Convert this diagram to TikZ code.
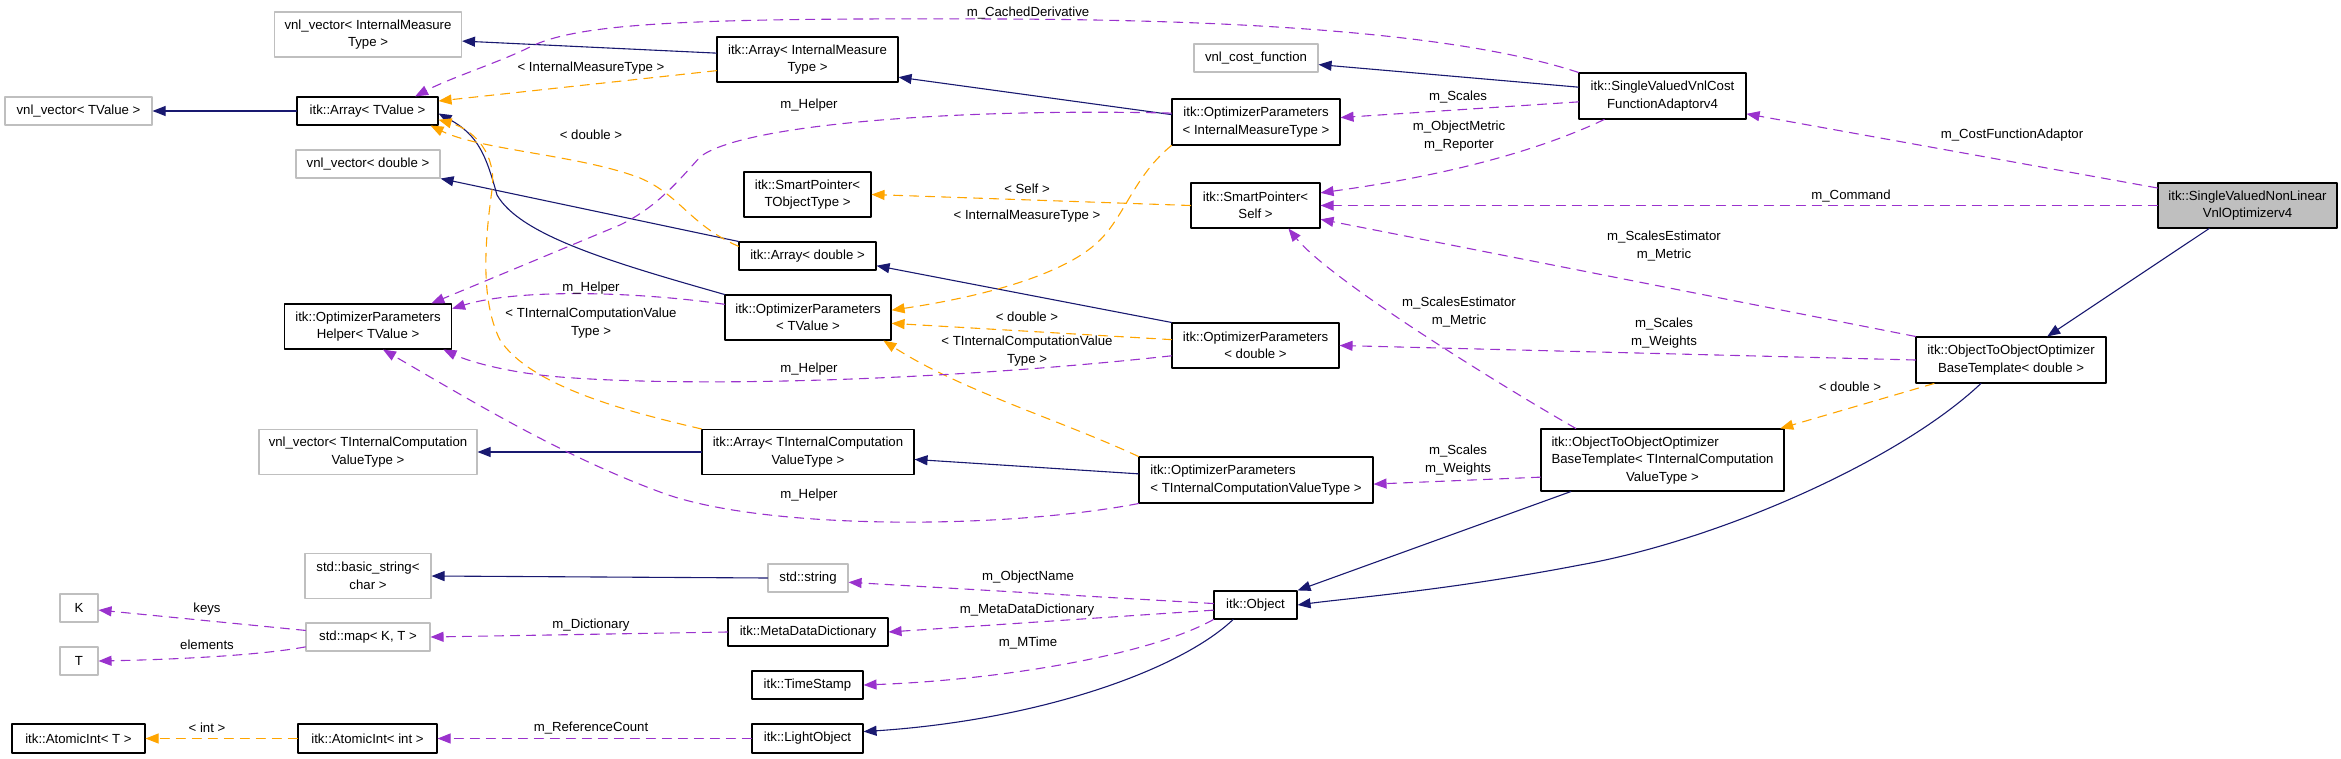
\documentclass[tikz,border=0pt]{standalone}
\usepackage{fontspec}
\setmainfont{Liberation Sans}
\usetikzlibrary{arrows.meta}
\definecolor{edgeblue}{HTML}{191970}
\definecolor{edgepurple}{HTML}{9A32CD}
\definecolor{edgeorange}{HTML}{FFA500}
\definecolor{boxgray}{HTML}{BFBFBF}
\newcommand\dgfont{\fontsize{13.2}{17.5}\selectfont}
\tikzset{
  >={Triangle[length=13pt, width=10pt]},
  every picture/.style={line cap=round, line join=round},
  sz/.style 2 args={minimum width=#1, minimum height=#2},
  % class boxes: documented, external and the class itself
  cls/.style={draw=black, fill=white, line width=1.1pt, inner sep=0pt, align=center, font=\dgfont},
  extcls/.style={cls, draw=boxgray},
  main/.style={cls, fill=boxgray},
  % connectors: inheritance, usage, template instance
  inh/.style={->, draw=edgeblue, line width=1.1pt},
  use/.style={->, draw=edgepurple, line width=1.1pt, dash pattern=on 9pt off 7pt},
  inst/.style={use, draw=edgeorange},
  lbl/.style={font=\dgfont, align=center, inner sep=0pt},
}

\begin{document}
\begin{tikzpicture}[x=1pt, y=-1pt]
  \useasboundingbox (0,0) rectangle (2341,759);
  % first column
  \node[extcls, sz={147}{28}] (vecT) at (78.5,111) {vnl\_vector< TValue >};
  \node[extcls, sz={38}{28}] (K) at (79,608) {K};
  \node[extcls, sz={38}{28}] (T) at (79,661) {T};
  \node[cls, sz={133}{29}] (aiT) at (78.5,738.5) {itk::AtomicInt< T >};
  % second column
  \node[extcls, sz={187}{45}] (vecIMT) at (368,34.5) {vnl\_vector< InternalMeasure\\Type >};
  \node[cls, sz={141}{28}] (arrT) at (367.5,111) {itk::Array< TValue >};
  \node[extcls, sz={144}{28}] (vecD) at (368,164) {vnl\_vector< double >};
  \node[cls, sz={167}{45}] (helper) at (368,326.5) {itk::OptimizerParameters\\Helper< TValue >};
  \node[extcls, sz={218}{45}] (vecTICVT) at (368,452) {vnl\_vector< TInternalComputation\\ValueType >};
  \node[extcls, sz={126}{45}] (bstr) at (368,576) {std::basic\_string<\\char >};
  \node[extcls, sz={124}{28}] (map) at (368,637) {std::map< K, T >};
  \node[cls, sz={139}{29}] (aiInt) at (367.5,738.5) {itk::AtomicInt< int >};
  % third column
  \node[cls, sz={181}{45}] (arrIMT) at (807.5,59.5) {itk::Array< InternalMeasure\\Type >};
  \node[cls, sz={127}{45}] (spTO) at (807.5,194.5) {itk::SmartPointer<\\TObjectType >};
  \node[cls, sz={137}{28}] (arrD) at (807.5,256) {itk::Array< double >};
  \node[cls, sz={166}{45}] (opT) at (808,317.5) {itk::OptimizerParameters\\< TValue >};
  \node[cls, sz={212}{45}] (arrTICVT) at (808,452) {itk::Array< TInternalComputation\\ValueType >};
  \node[extcls, sz={80}{28}] (str) at (808,578) {std::string};
  \node[cls, sz={160}{28}] (mdd) at (808,632) {itk::MetaDataDictionary};
  \node[cls, sz={111}{28}] (ts) at (807.5,685) {itk::TimeStamp};
  \node[cls, sz={111}{29}] (lo) at (807.5,738.5) {itk::LightObject};
  % fourth column
  \node[extcls, sz={124}{28}] (vcf) at (1256,58) {vnl\_cost\_function};
  \node[cls, sz={168}{46}] (opIMT) at (1256,122) {itk::OptimizerParameters\\< InternalMeasureType >};
  \node[cls, sz={129}{45}] (spS) at (1255.5,205.5) {itk::SmartPointer<\\Self >};
  \node[cls, sz={167}{45}] (opD) at (1255.5,345.5) {itk::OptimizerParameters\\< double >};
  \node[cls, sz={234}{46}] (opTICVT) at (1256,480)
    {\begin{tabular}{@{}l@{}}itk::OptimizerParameters\\< TInternalComputationValueType >\end{tabular}};
  \node[cls, sz={83}{28}] (obj) at (1255.5,605) {itk::Object};
  % right part
  \node[cls, sz={167}{46}] (svvc) at (1662.5,96) {itk::SingleValuedVnlCost\\FunctionAdaptorv4};
  \node[cls, sz={243}{62}] (btTICVT) at (1662.5,460)
    {\begin{tabular}{@{}l@{}}itk::ObjectToObjectOptimizer\\BaseTemplate< TInternalComputation\\\multicolumn{1}{@{}c@{}}{ValueType >}\end{tabular}};
  \node[cls, sz={190}{46}] (btD) at (2011,360) {itk::ObjectToObjectOptimizer\\BaseTemplate< double >};
  \node[main, sz={179}{45}] (svnl) at (2247.5,205.5) {itk::SingleValuedNonLinear\\VnlOptimizerv4};

  % inheritance
  \draw[inh] (arrT.west) -- (vecT.east);
  \draw[inh] (arrIMT.176) -- (vecIMT.356);
  \draw[inh] (opIMT.175) -- (arrIMT.349);
  \draw[inh] (svvc.174) -- (vcf.354);
  \draw[inh] (arrD.north west) -- (vecD.south east);
  \draw[inh] (opT.north west) .. controls (610,262) and (520,235) .. (497,195)
    .. controls (486,155) and (478,135) .. (arrT.358);
  \draw[inh] (opD.north west) -- (arrD.352);
  \draw[inh] (arrTICVT.west) -- (vecTICVT.east);
  \draw[inh] (opTICVT.177) -- (arrTICVT.356);
  \draw[inh] (str.west) -- (bstr.east);
  \draw[inh] (obj.213) .. controls (1180,670) and (1040,720) .. (lo.7);
  \draw[inh] (btTICVT.199) -- (obj.north east);
  \draw[inh] (btD.218) .. controls (1900,460) and (1720,540) .. (1580,565)
    .. controls (1450,590) and (1350,598) .. (obj.east);
  \draw[inh] (svnl.211) -- (btD.33);

  % template instances
  \draw[inst] (arrIMT.187) -- (arrT.8) node[lbl, at={(591,68)}] {< InternalMeasureType >};
  \draw[inst] (arrD.172) .. controls (690,225) and (680,195) .. (640,178)
    .. controls (580,155) and (480,150) .. (arrT.347) node[lbl, at={(591,135)}] {< double >};
  \draw[inst] (arrTICVT.north west) .. controls (620,410) and (530,385) .. (500,340)
    .. controls (480,300) and (485,240) .. (492,190) .. controls (497,155) and (475,130) .. (arrT.353)
    node[lbl, at={(591,323)}] {< TInternalComputationValue\\Type >};
  \draw[inst] (opIMT.south west) .. controls (1135,175) and (1125,215) .. (1100,240)
    .. controls (1060,280) and (960,300) .. (opT.5) node[lbl, at={(1027,216)}] {< InternalMeasureType >};
  \draw[inst] (opD.176) -- (opT.356) node[lbl, at={(1027,317)}] {< double >};
  \draw[inst] (opTICVT.north west) .. controls (1060,420) and (960,390) .. (opT.343)
    node[lbl, at={(1027,351)}] {< TInternalComputationValue\\Type >};
  \draw[inst] (spS.west) -- (spTO.east) node[lbl, at={(1027,189)}] {< Self >};
  \draw[inst] (btD.197) -- (btTICVT.15) node[lbl, at={(1850,387)}] {< double >};
  \draw[inst] (aiInt.west) -- (aiT.east) node[lbl, at={(207,728)}] {< int >};

  % usage (members)
  \draw[use] (svvc.north west) .. controls (1480,40) and (1300,20) .. (1000,19)
    .. controls (700,18) and (580,22) .. (530,47) .. controls (500,62) and (450,78) .. (arrT.17)
    node[lbl, at={(1028,13)}] {m\_CachedDerivative};
  \draw[use] (opIMT.174) .. controls (950,108) and (740,125) .. (700,157)
    .. controls (675,185) and (655,208) .. (620,225) -- (helper.20) node[lbl, at={(809,105)}] {m\_Helper};
  \draw[use] (opT.171) .. controls (640,292) and (520,288) .. (helper.12) node[lbl, at={(591,288)}] {m\_Helper};
  \draw[use] (opD.187) .. controls (950,380) and (700,388) .. (560,377)
    .. controls (510,373) and (470,362) .. (helper.343) node[lbl, at={(809,369)}] {m\_Helper};
  \draw[use] (opTICVT.south west) .. controls (1000,530) and (760,530) .. (660,492)
    .. controls (560,455) and (470,400) .. (helper.303) node[lbl, at={(809,495)}] {m\_Helper};
  \draw[use] (svvc.184) -- (opIMT.3) node[lbl, at={(1458,97)}] {m\_Scales};
  \draw[use] (svvc.202) .. controls (1540,150) and (1450,175) .. (spS.11)
    node[lbl, at={(1459,136)}] {m\_ObjectMetric\\m\_Reporter};
  \draw[use] (svnl.169) -- (svvc.348) node[lbl, at={(2012,135)}] {m\_CostFunctionAdaptor};
  \draw[use] (svnl.west) -- (spS.east) node[lbl, at={(1851,196)}] {m\_Command};
  \draw[use] (btD.north west) -- (spS.348) node[lbl, at={(1664,246)}] {m\_ScalesEstimator\\m\_Metric};
  \draw[use] (btD.west) -- (opD.east) node[lbl, at={(1664,333)}] {m\_Scales\\m\_Weights};
  \draw[use] (btTICVT.160) .. controls (1500,385) and (1330,280) .. (spS.325)
    node[lbl, at={(1459,312)}] {m\_ScalesEstimator\\m\_Metric};
  \draw[use] (btTICVT.188) -- (opTICVT.358) node[lbl, at={(1458,460)}] {m\_Scales\\m\_Weights};
  \draw[use] (obj.178) -- (str.354) node[lbl, at={(1028,577)}] {m\_ObjectName};
  \draw[use] (obj.187) -- (mdd.east) node[lbl, at={(1027,610)}] {m\_MetaDataDictionary};
  \draw[use] (obj.south west) .. controls (1150,655) and (1000,680) .. (ts.east)
    node[lbl, at={(1028,643)}] {m\_MTime};
  \draw[use] (mdd.west) -- (map.east) node[lbl, at={(591,625)}] {m\_Dictionary};
  \draw[use] (map.174) -- (K.354) node[lbl, at={(207,609)}] {keys};
  \draw[use] (map.189) .. controls (250,657) and (150,660) .. (T.east) node[lbl, at={(207,645)}] {elements};
  \draw[use] (lo.west) -- (aiInt.east) node[lbl, at={(591,728)}] {m\_ReferenceCount};
\end{tikzpicture}
\end{document}
